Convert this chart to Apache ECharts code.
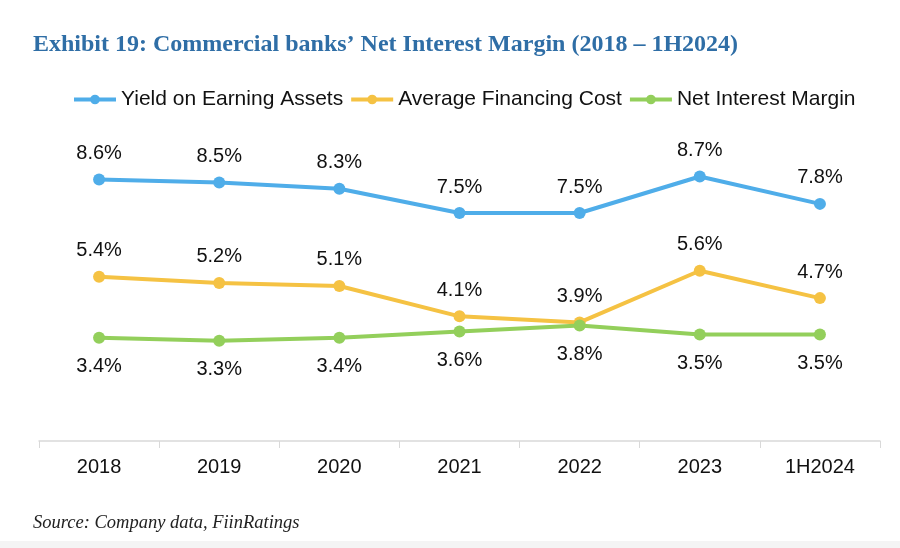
<!DOCTYPE html>
<html><head><meta charset="utf-8">
<script src="https://cdn.jsdelivr.net/npm/echarts@6/dist/echarts.min.js"></script>
<style>
html,body{margin:0;padding:0;background:#fff;}
#wrap{position:relative;width:900px;height:548px;overflow:hidden;background:#fff;}
#chart{position:absolute;left:0;top:0;width:900px;height:548px;}
#band{position:absolute;left:0;top:541px;width:900px;height:7px;background:#f4f4f4;}
</style></head>
<body><div id="wrap"><div id="chart"></div><div id="band"></div></div>
<script>
const categories = ['2018','2019','2020','2021','2022','2023','1H2024'];
const yieldOnEarningAssets = [8.6, 8.5, 8.3, 7.5, 7.5, 8.7, 7.8];
const averageFinancingCost = [5.4, 5.2, 5.1, 4.1, 3.9, 5.6, 4.7];
const netInterestMargin = [3.4, 3.3, 3.4, 3.6, 3.8, 3.5, 3.5];
const seriesNames = ['Yield on Earning Assets','Average Financing Cost','Net Interest Margin'];
const colors = ['#4FADE9','#F5C243','#93CF5B'];

const chart = echarts.init(document.getElementById('chart'));
const lbl = (pos, dist) => ({show:true, position:pos, distance:dist, color:'#111', fontSize:20,
  fontFamily:'Liberation Sans, Arial, sans-serif', formatter: p => p.value.toFixed(1) + '%'});
function mk(name, data, color, pos, dist){
  return {name, type:'line', data, color, symbol:'circle', symbolSize:12,
    lineStyle:{width:4, color}, itemStyle:{color}, label:lbl(pos, dist)};
}
chart.setOption({
  animation:false,
  title:[{text:'Exhibit 19: Commercial banks’ Net Interest Margin (2018 – 1H2024)', left:28, top:28,
    textStyle:{fontFamily:'Liberation Serif, serif', fontWeight:'bold', fontSize:24, color:'#2F6EA6'}},
    {text:'Source: Company data, FiinRatings', left:28, top:509,
    textStyle:{fontFamily:'Liberation Serif, serif', fontStyle:'italic', fontWeight:'normal', fontSize:18.5, color:'#222'}}],
  legend:{data:seriesNames, left:67, top:84, itemWidth:42, itemHeight:12, itemGap:6,
    lineStyle:{width:4}, itemStyle:{borderWidth:0},
    textStyle:{fontSize:21, color:'#111', fontFamily:'Liberation Sans, Arial, sans-serif'}},
  grid:{left:39, right:20, top:137, bottom:107},
  xAxis:{type:'category', data:categories, boundaryGap:true,
    axisLine:{lineStyle:{color:'#d9d9d9', width:1.5}},
    axisTick:{show:true, length:7, lineStyle:{color:'#d9d9d9'}},
    axisLabel:{color:'#111', fontSize:20, margin:16, fontFamily:'Liberation Sans, Arial, sans-serif'}},
  yAxis:{type:'value', min:0, max:10, show:false, splitLine:{show:false}},
  series:[
    mk(seriesNames[0], yieldOnEarningAssets, colors[0], 'top', 10),
    mk(seriesNames[1], averageFinancingCost, colors[1], 'top', 10),
    mk(seriesNames[2], netInterestMargin, colors[2], 'bottom', 13)
  ]
});
</script></body></html>
